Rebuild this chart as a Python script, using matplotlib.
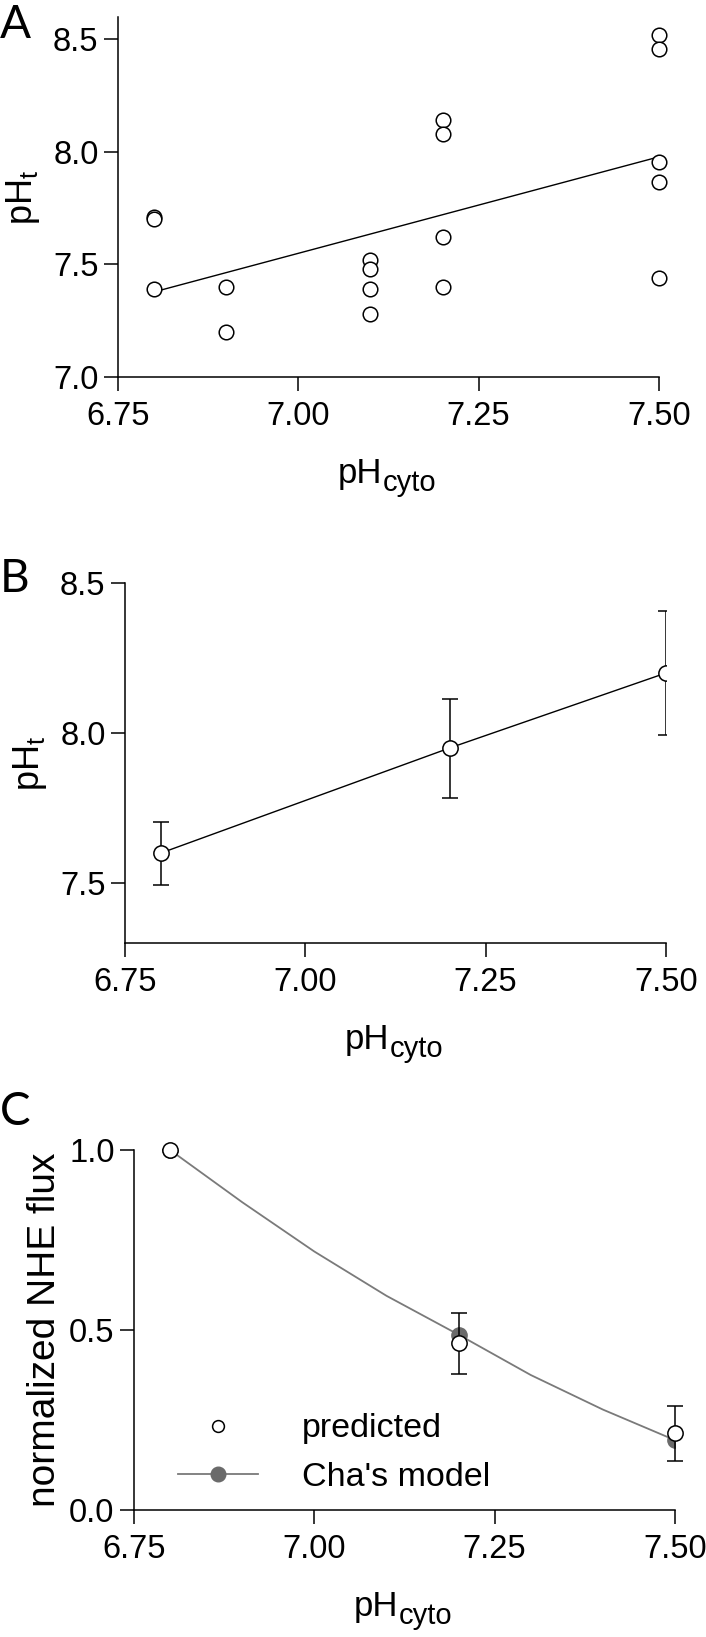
import matplotlib
matplotlib.use('Agg')
import matplotlib.pyplot as plt
from matplotlib.lines import Line2D

plt.rcParams['font.family'] = ['Liberation Sans', 'DejaVu Sans']
plt.rcParams['mathtext.fontset'] = 'custom'
plt.rcParams['mathtext.rm'] = 'Liberation Sans'
plt.rcParams['mathtext.it'] = 'Liberation Sans:italic'
plt.rcParams['mathtext.bf'] = 'Liberation Sans:bold'

# ---------------- data ----------------
# Panel A: individual measurements
a_x = [6.8, 6.8, 6.8, 6.9, 6.9, 7.1, 7.1, 7.1, 7.1, 7.2, 7.2, 7.2, 7.2, 7.5, 7.5, 7.5, 7.5, 7.5]
a_y = [7.71, 7.70, 7.39, 7.40, 7.20, 7.52, 7.48, 7.39, 7.28, 8.14, 8.08, 7.62, 7.40,
       8.52, 8.455, 7.955, 7.865, 7.44]
a_fit_x = [6.8, 7.5]
a_fit_y = [7.378, 7.978]

# Panel B: mean +/- error
b_x = [6.8, 7.2, 7.5]
b_y = [7.60, 7.95, 8.20]
b_err = [0.105, 0.165, 0.208]

# Panel C: normalized NHE flux
c_x = [6.8, 7.2, 7.5]
c_pred = [1.0, 0.463, 0.213]
c_pred_err = [0.0, 0.085, 0.077]
c_model_pts = [1.0, 0.487, 0.194]
c_curve_x = [6.8, 6.9, 7.0, 7.1, 7.2, 7.3, 7.4, 7.5]
c_curve_y = [1.0, 0.855, 0.718, 0.595, 0.487, 0.375, 0.279, 0.194]

x_ticks = [6.75, 7.00, 7.25, 7.50]
x_ticklabels = ['6.75', '7.00', '7.25', '7.50']
a_yticks = [7.0, 7.5, 8.0, 8.5]
b_yticks = [7.5, 8.0, 8.5]
c_yticks = [0.0, 0.5, 1.0]

# ---------------- figure ----------------
W, H = 706, 1637
fig = plt.figure(figsize=(W / 100, H / 100), dpi=100)


def px_axes(left, right, top, bottom):
    return fig.add_axes([left / W, 1 - bottom / H, (right - left) / W, (bottom - top) / H])


TICK_FS = 23.5
LW = 1.1


def xlabel(left, right, axis_y):
    cx = (left + right) / 2 - 6
    fig.text(cx / W, 1 - (axis_y + 106) / H, 'pH', fontsize=25,
             ha='right', va='baseline')
    fig.text(cx / W, 1 - (axis_y + 114) / H, 'cyto', fontsize=21,
             ha='left', va='baseline')


def style(ax, yticks, yfmt):
    for s in ['top', 'right']:
        ax.spines[s].set_visible(False)
    for s in ['left', 'bottom']:
        ax.spines[s].set_linewidth(LW)
    ax.set_xticks(x_ticks)
    ax.set_xticklabels(x_ticklabels)
    ax.set_yticks(yticks)
    ax.set_yticklabels([yfmt.format(v) for v in yticks])
    ax.tick_params(axis='both', direction='out', length=10, width=LW,
                   labelsize=TICK_FS)
    ax.tick_params(axis='x', pad=7)
    ax.tick_params(axis='y', pad=4)
    ax.set_xlim(6.75, 7.5)


# Panel A
A_L, A_R, A_T, A_B = 118, 659, 16.8, 377
axA = px_axes(A_L, A_R, A_T, A_B)
axA.plot(a_fit_x, a_fit_y, color='black', lw=1.0, zorder=2)
axA.plot(a_x, a_y, linestyle='none', marker='o', ms=10.5, mfc='white', mec='black',
         mew=1.1, zorder=3, clip_on=False)
style(axA, a_yticks, '{:.1f}')
axA.set_ylim(7.0, 8.6)
axA.set_ylabel(r'pH$_{\mathrm{t}}$', fontsize=26, labelpad=8)
xlabel(A_L, A_R, A_B)

# Panel B
B_L, B_R, B_T, B_B = 125, 666, 583, 943
axB = px_axes(B_L, B_R, B_T, B_B)
axB.errorbar(b_x, b_y, yerr=b_err, color='black', lw=1.0, elinewidth=1.1,
             capsize=6, capthick=1.1, marker='o', ms=11, mfc='white',
             mec='black', mew=1.1, zorder=3)
style(axB, b_yticks, '{:.1f}')
axB.set_ylim(7.3, 8.5)
axB.set_ylabel(r'pH$_{\mathrm{t}}$', fontsize=26, labelpad=8)
xlabel(B_L, B_R, B_B)

# Panel C
C_L, C_R, C_T, C_B = 134, 675, 1150, 1510
axC = px_axes(C_L, C_R, C_T, C_B)
grey = '#7a7a7a'
axC.plot(c_curve_x, c_curve_y, color=grey, lw=1.3, zorder=2)
axC.plot(c_x, c_model_pts, linestyle='none', marker='o', ms=11, mfc='#6a6a6a',
         mec='#6a6a6a', zorder=3)
axC.errorbar(c_x, c_pred, yerr=c_pred_err, fmt='o', color='black', elinewidth=1.1,
             capsize=6, capthick=1.1, ms=11, mfc='white', mec='black', mew=1.1,
             zorder=4, clip_on=False)
style(axC, c_yticks, '{:.1f}')
axC.set_ylim(0.0, 1.0)
axC.set_ylabel('normalized NHE flux', fontsize=28, labelpad=4)
xlabel(C_L, C_R, C_B)

h_pred = Line2D([], [], linestyle='none', marker='o', ms=8.5, mfc='white', mec='black', mew=1.1)
h_model = Line2D([], [], color=grey, lw=1.3, marker='o', ms=10.5, mfc='#6a6a6a', mec='#6a6a6a')
axC.legend([h_pred, h_model], ['predicted', "Cha's model"], loc='center left',
           bbox_to_anchor=((178 - C_L) / (C_R - C_L), (C_B - 1453) / (C_B - C_T)),
           frameon=False, fontsize=24.5, borderpad=0, borderaxespad=0,
           handlelength=2.35, handletextpad=1.3, labelspacing=0.5)

# Panel letters
for letter, base in [('A', 38), ('B', 592), ('C', 1125)]:
    fig.text(0.0, 1 - base / H, letter, fontsize=33, family=['Lato', 'DejaVu Sans'],
             ha='left', va='baseline')

fig.savefig('out.png', dpi=100)
